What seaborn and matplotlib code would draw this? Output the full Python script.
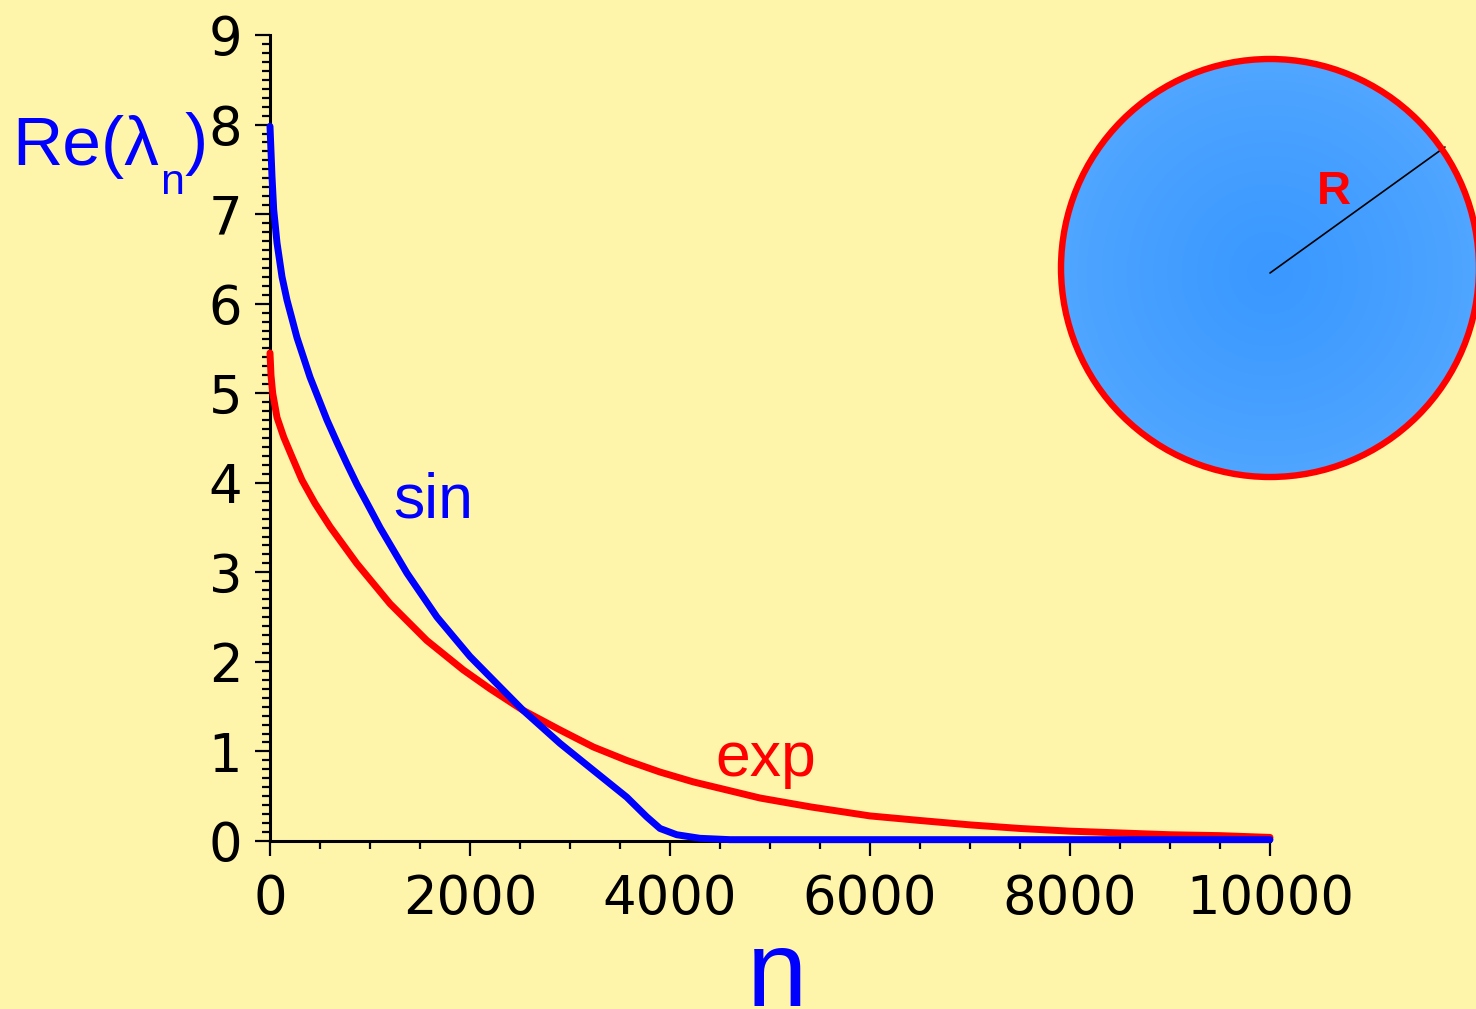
import numpy as np
import pandas as pd
import matplotlib
matplotlib.use("Agg")
import matplotlib.pyplot as plt
import seaborn as sns
from matplotlib.patches import Circle
from matplotlib.ticker import MultipleLocator

# ---- data ----
n_sin = [0, 10, 20, 37, 70, 120, 170, 270, 400, 570, 670, 770, 870, 1000, 1100, 1370,
         1670, 2000, 2300, 2530, 2900, 3233, 3567, 3767, 3900, 4067, 4300, 4600,
         6000, 8000, 10000]
re_sin = [7.98, 7.70, 7.42, 7.05, 6.68, 6.30, 6.04, 5.62, 5.18, 4.70, 4.45, 4.21, 3.98,
          3.71, 3.50, 2.99, 2.50, 2.06, 1.72, 1.46, 1.09, 0.79, 0.49, 0.27, 0.14, 0.07,
          0.03, 0.015, 0.015, 0.015, 0.015]

n_exp = [0, 10, 27, 70, 137, 220, 320, 450, 600, 867, 1200, 1567, 1933, 2200, 2530,
         2900, 3233, 3567, 3900, 4233, 4567, 4900, 5410, 6000, 6490, 7000, 7500,
         8000, 8500, 9000, 9500, 10000]
re_exp = [5.45, 5.20, 5.00, 4.73, 4.51, 4.29, 4.03, 3.77, 3.51, 3.10, 2.65, 2.24, 1.91,
          1.70, 1.46, 1.24, 1.05, 0.90, 0.77, 0.66, 0.57, 0.48, 0.38, 0.28, 0.23, 0.18,
          0.14, 0.11, 0.09, 0.07, 0.06, 0.04]

x_ticks = [0, 2000, 4000, 6000, 8000, 10000]
y_ticks = [0, 1, 2, 3, 4, 5, 6, 7, 8, 9]

y_label_main = "Re(λ"
y_label_sub = "n"
y_label_close = ")"
x_label = "n"
sin_label = "sin"
exp_label = "exp"
radius_label = "R"

# ---- style ----
sns.set_theme(style="ticks")
plt.rcParams["font.family"] = ["Liberation Sans", "DejaVu Sans"]

BG = "#FFF5AA"
BLUE = "#0000FF"
RED = "#FF0000"
W, H = 1476, 1009

fig = plt.figure(figsize=(W / 100, H / 100), dpi=100, facecolor=BG)
ax = fig.add_axes([270 / W, (H - 841) / H, 1000 / W, 806 / H])
ax.set_facecolor(BG)

df_exp = pd.DataFrame({"n": n_exp, "Re": re_exp})
df_sin = pd.DataFrame({"n": n_sin, "Re": re_sin})
sns.lineplot(data=df_exp, x="n", y="Re", color=RED, linewidth=5.0, ax=ax,
             estimator=None, sort=False, clip_on=False, zorder=5)
sns.lineplot(data=df_sin, x="n", y="Re", color=BLUE, linewidth=5.0, ax=ax,
             estimator=None, sort=False, clip_on=False, zorder=6)

ax.set_xlim(0, 10000)
ax.set_ylim(0, 9)
ax.set_xticks(x_ticks)
ax.set_yticks(y_ticks)
ax.xaxis.set_minor_locator(MultipleLocator(500))
ax.yaxis.set_minor_locator(MultipleLocator(0.1))
ax.set_xlabel("")
ax.set_ylabel("")
for s in ["top", "right"]:
    ax.spines[s].set_visible(False)
for s in ["left", "bottom"]:
    ax.spines[s].set_linewidth(2.2)
    ax.spines[s].set_color("black")
ax.tick_params(which="major", length=11, width=1.6, color="black",
               labelsize=38, labelcolor="black", direction="out")
ax.tick_params(which="minor", length=6, width=1.6, color="black", direction="out")
ax.tick_params(axis="x", which="major", pad=12.0)
ax.tick_params(axis="y", which="major", pad=9.0)
for lab in ax.get_xticklabels() + ax.get_yticklabels():
    lab.set_fontfamily("DejaVu Sans")

# ---- texts ----
t1 = fig.text(12 / W, 1 - 165 / H, y_label_main, color=BLUE, fontsize=50,
              ha="left", va="baseline")
t2 = ax.annotate(y_label_sub, xy=(1, 0), xycoords=t1, xytext=(1, -11),
                 textcoords="offset points", color=BLUE, fontsize=31,
                 ha="left", va="baseline", annotation_clip=False)
t3 = ax.annotate(y_label_close, xy=(1, 0), xycoords=t2, xytext=(0.5, 30),
                 textcoords="offset points", color=BLUE, fontsize=50,
                 ha="left", va="baseline", annotation_clip=False)

fig.text(777 / W, 1 - 1006 / H, x_label, color=BLUE, fontsize=78,
         ha="center", va="baseline")
fig.text(393 / W, 1 - 517 / H, sin_label, color=BLUE, fontsize=45,
         ha="left", va="baseline")
fig.text(715 / W, 1 - 776 / H, exp_label, color=RED, fontsize=45,
         ha="left", va="baseline")

# ---- circle inset (units: pixels around the circle centre) ----
cx_px, cy_px, half = 1270, 268, 230
cax = fig.add_axes([(cx_px - half) / W, (H - cy_px - half) / H,
                    2 * half / W, 2 * half / H])
cax.set_xlim(-half, half)
cax.set_ylim(-half, half)
cax.axis("off")
cax.patch.set_alpha(0)

rad = 209
g = np.linspace(-rad, rad, 400)
X, Y = np.meshgrid(g, g)
r = np.clip(np.sqrt(X ** 2 + (Y + 5) ** 2) / rad, 0, 1)
c0 = np.array([58, 152, 255]) / 255
c1 = np.array([80, 166, 255]) / 255
img = c0[None, None, :] + (c1 - c0)[None, None, :] * (r[..., None] ** 1.2)
clip = Circle((0, 0), rad, transform=cax.transData)
im = cax.imshow(img, extent=(-rad, rad, -rad, rad), origin="lower",
                interpolation="bilinear", zorder=1)
im.set_clip_path(clip)
cax.add_patch(Circle((0, 0), rad, fill=False, ec=RED, lw=4.6,
                     clip_on=False, zorder=3))
line_start = (0, -5)
line_end = (175, 121)
cax.plot([line_start[0], line_end[0]], [line_start[1], line_end[1]],
         color="black", lw=1.2, zorder=2, clip_on=False)
cax.text(47, 64, radius_label, color=RED, fontsize=34, fontweight="bold",
         ha="left", va="baseline")

fig.savefig("out.png", dpi=100, facecolor=BG)
